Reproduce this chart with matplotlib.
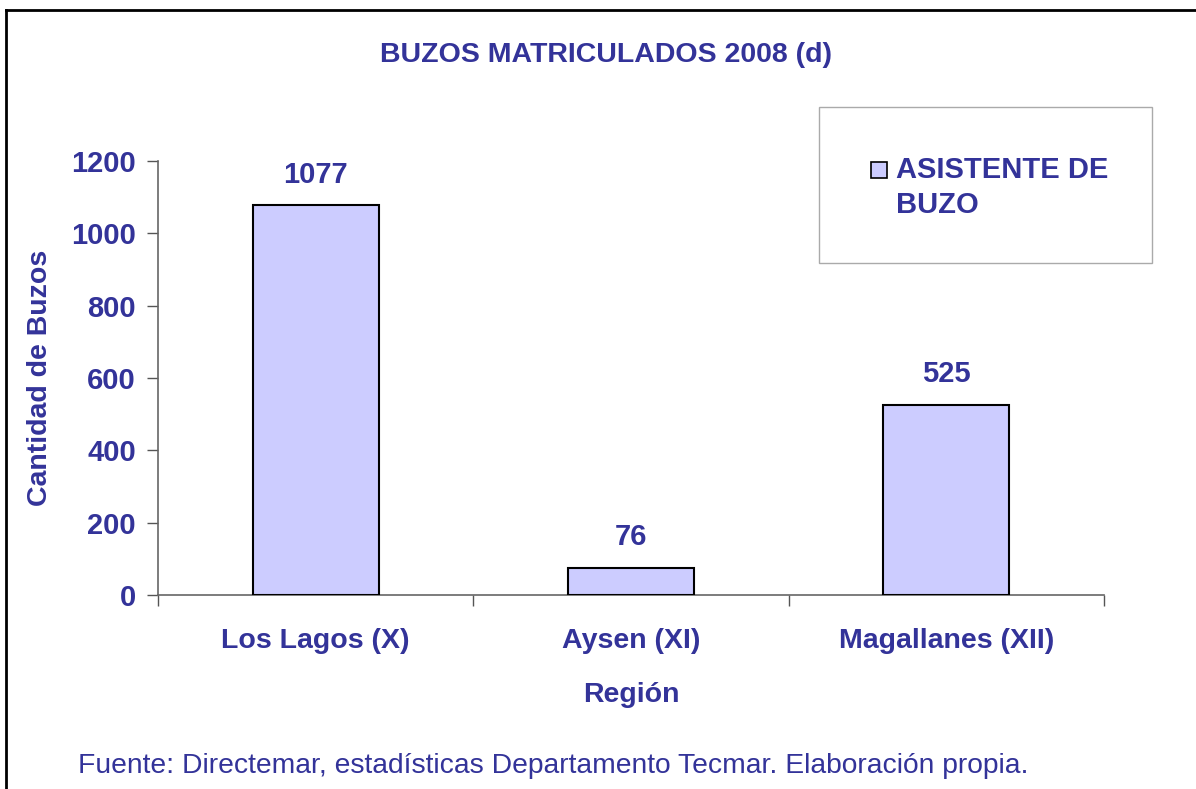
import matplotlib.pyplot as plt
from matplotlib.lines import Line2D
from matplotlib.patches import Rectangle

regions = ["Los Lagos (X)", "Aysen (XI)", "Magallanes (XII)"]
buzos = [1077, 76, 525]
yticks = [0, 200, 400, 600, 800, 1000, 1200]

navy = "#333399"
fill = "#ccccff"

plt.rcParams['font.family'] = ['Liberation Sans', 'DejaVu Sans']

fig = plt.figure(figsize=(11.96, 7.89), dpi=100)
ax = fig.add_axes([158 / 1196, 1 - 595 / 789, 946 / 1196, 434 / 789])

x = list(range(len(regions)))
bars = ax.bar(x, buzos, width=0.4, color=fill, edgecolor="black", linewidth=1.5, zorder=3)
for xi, v in zip(x, buzos):
    ax.annotate(str(v), (xi, v), xytext=(0, 12), textcoords="offset points",
                ha="center", va="bottom", fontsize=21, fontweight="bold", color=navy)

ax.set_xlim(-0.5, 2.5)
ax.set_ylim(0, 1200)
ax.set_yticks(yticks)
ax.set_yticklabels([str(t) for t in yticks], fontsize=21, fontweight="bold", color=navy)
ax.set_xticks([-0.5, 0.5, 1.5, 2.5])
ax.set_xticklabels([])
ax.set_xticks(x, minor=True)
ax.set_xticklabels(regions, minor=True, fontsize=20.5, fontweight="bold", color=navy)
ax.tick_params(axis="x", which="minor", length=0, pad=24)
ax.tick_params(axis="x", which="major", length=8, width=1, direction="out", color="#555555")
ax.tick_params(axis="y", length=8, width=1, direction="out", color="#555555", pad=8)

for s in ["top", "right"]:
    ax.spines[s].set_visible(False)
for s in ["left", "bottom"]:
    ax.spines[s].set_color("#666666")
    ax.spines[s].set_linewidth(1.2)

ax.set_xlabel("Región", fontsize=20.5, fontweight="bold", color=navy, labelpad=20)
ax.set_ylabel("Cantidad de Buzos", fontsize=20.5, fontweight="bold", color=navy, labelpad=13)

fig.text(606 / 1196, 1 - 55 / 789, "BUZOS MATRICULADOS 2008 (d)", ha="center", va="center",
         fontsize=20.5, fontweight="bold", color=navy)
fig.text(78 / 1196, 1 - 766 / 789, "Fuente: Directemar, estadísticas Departamento Tecmar. Elaboración propia.",
         ha="left", va="center", fontsize=20.3, color=navy)

# legend box
fig.patches.append(Rectangle((819 / 1196, 1 - 263 / 789), 333 / 1196, 156 / 789,
                             transform=fig.transFigure, facecolor="white", edgecolor="#aaaaaa", lw=1))
fig.patches.append(Rectangle((871 / 1196, 1 - 178 / 789), 16 / 1196, 16 / 789,
                             transform=fig.transFigure, facecolor=fill, edgecolor="black", lw=1.2))
fig.text(896 / 1196, 1 - 178 / 789, "ASISTENTE DE", ha="left", va="baseline",
         fontsize=21, fontweight="bold", color=navy)
fig.text(896 / 1196, 1 - 213 / 789, "BUZO", ha="left", va="baseline",
         fontsize=21, fontweight="bold", color=navy)

# outer frame (top and left edges only)
fig.add_artist(Line2D([6 / 1196, 1], [1 - 10 / 789, 1 - 10 / 789], transform=fig.transFigure,
                      color="black", lw=2))
fig.add_artist(Line2D([6 / 1196, 6 / 1196], [0, 1 - 10 / 789], transform=fig.transFigure,
                      color="black", lw=2))

fig.savefig("out.png", dpi=100)
